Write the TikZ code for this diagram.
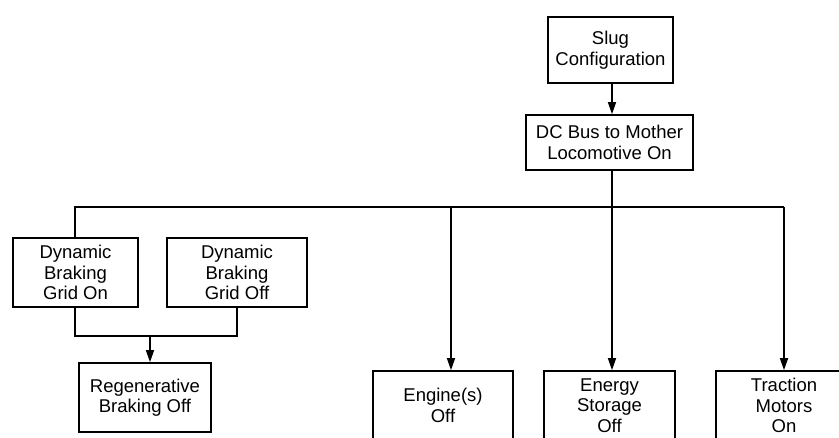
\documentclass[tikz,border=0pt]{standalone}
\usepackage{fontspec}
\setmainfont{Liberation Sans}
\usetikzlibrary{arrows.meta}
\begin{document}
\begin{tikzpicture}[x=1pt,y=-1pt,
  box/.style={draw,line width=1.6pt,align=center,inner sep=0pt,
    font=\fontsize{18.5}{20.5}\selectfont},
  conn/.style={line width=1.4pt},
  arr/.style={conn,-{Triangle[length=12pt,width=8pt]}}]
\useasboundingbox (0,0) rectangle (839,437);
\clip (0,0) rectangle (839,437);
\fill[white] (0,0) rectangle (839,437);
\node[box,minimum width=125pt,minimum height=66pt] (slug) at (610.5,50) {Slug\\Configuration};
\node[box,minimum width=167pt,minimum height=55pt] (dc) at (609.5,142.5) {DC Bus to Mother\\Locomotive On};
\node[box,minimum width=125pt,minimum height=69pt] (dbon) at (75.5,272.5) {Dynamic\\Braking\\Grid On};
\node[box,minimum width=140pt,minimum height=69pt] (dboff) at (237,272.5) {Dynamic\\Braking\\Grid Off};
\node[box,minimum width=132pt,minimum height=69pt] (regen) at (145,397.5) {Regenerative\\Braking Off};
\node[box,minimum width=140pt,minimum height=69pt] (eng) at (443,405.5) {Engine(s)\\Off};
\node[box,minimum width=131pt,minimum height=69pt] (es) at (609.5,405.5) {Energy\\Storage\\Off};
\node[box,minimum width=136pt,minimum height=69pt] (tm) at (784,405.5) {Traction\\Motors\\On};
\coordinate (busL) at (75,207);
\coordinate (busR) at (784,207);
\coordinate (busM) at (612,207);
\coordinate (joinL) at (75,336);
\coordinate (joinR) at (237,336);
\coordinate (joinM) at (150,336);
\draw[arr] (slug.south -| 612,0) -- (dc.north -| 612,0);
\draw[conn] (dc.south -| busM) -- (busM);
\draw[conn] (dbon.north -| busL) -- (busL) -- (busR);
\draw[arr] (busR) -- (tm.north -| busR);
\draw[arr] (busM) -- (es.north -| busM);
\draw[arr] (451,207) -- (eng.north -| 451,0);
\draw[conn] (dbon.south -| joinL) -- (joinL) -- (joinR) -- (dboff.south -| joinR);
\draw[arr] (joinM) -- (regen.north -| joinM);
\end{tikzpicture}
\end{document}
